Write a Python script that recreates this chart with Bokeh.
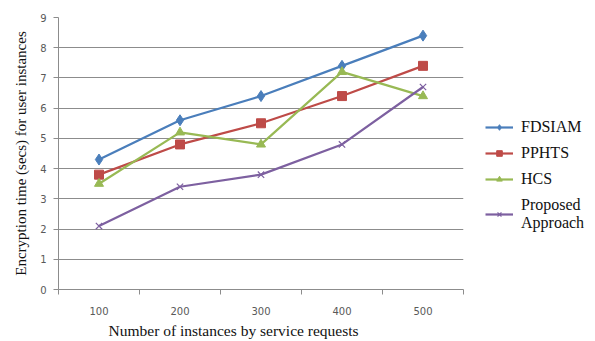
from bokeh.plotting import figure
from bokeh.models import Legend, LegendItem, FixedTicker, Range1d, Title
from bokeh.embed import file_html
from bokeh.resources import INLINE

categories = ["100", "200", "300", "400", "500"]
fdsiam = [4.3, 5.6, 6.4, 7.4, 8.4]
pphts = [3.8, 4.8, 5.5, 6.4, 7.4]
hcs = [3.5, 5.2, 4.8, 7.2, 6.4]
proposed = [2.1, 3.4, 3.8, 4.8, 6.7]

xs = [i + 0.5 for i in range(len(categories))]

p = figure(frame_width=405, frame_height=272, output_backend="svg",
           toolbar_location=None, min_border_left=58, min_border_top=17,
           min_border_bottom=4, min_border_right=132,
           x_range=Range1d(0, len(categories)), y_range=Range1d(0, 9))
p.outline_line_color = None
p.background_fill_color = "white"
p.border_fill_color = "white"

GRID = "#8c8c8c"
SERIF = "'Liberation Serif', 'Times New Roman', serif"

# y axis
p.yaxis.ticker = FixedTicker(ticks=list(range(0, 10)))
p.yaxis.axis_line_color = GRID
p.yaxis.major_tick_line_color = GRID
p.yaxis.major_tick_out = 5
p.yaxis.major_tick_in = 0
p.yaxis.minor_tick_line_color = None
p.yaxis.major_label_text_font = "DejaVu Sans"
p.yaxis.major_label_text_font_size = "10px"
p.yaxis.major_label_text_color = "#595959"
p.yaxis.major_label_standoff = 7
p.yaxis.axis_label = "Encryption time (secs) for user instances"
p.yaxis.axis_label_text_font = SERIF
p.yaxis.axis_label_text_font_style = "normal"
p.yaxis.axis_label_text_font_size = "15px"
p.yaxis.axis_label_text_color = "#111111"
p.yaxis.axis_label_standoff = 8

# x axis: labels at bin centers, tick marks at bin edges
p.xaxis.ticker = FixedTicker(ticks=xs, minor_ticks=list(range(0, len(categories) + 1)))
p.xaxis.major_label_overrides = {x: c for x, c in zip(xs, categories)}
p.xaxis.axis_line_color = GRID
p.xaxis.major_tick_line_color = None
p.xaxis.minor_tick_line_color = GRID
p.xaxis.minor_tick_out = 5
p.xaxis.minor_tick_in = 0
p.xaxis.major_label_text_font = "DejaVu Sans"
p.xaxis.major_label_text_font_size = "10px"
p.xaxis.major_label_text_color = "#595959"
p.xaxis.major_label_standoff = 11

# x axis title, set a little left of the plot centre
p.add_layout(Title(text="Number of instances by service requests", align="left",
                   offset=50, text_font=SERIF, text_font_style="normal",
                   text_font_size="15.5px", text_color="#111111",
                   standoff=4), "below")

p.xgrid.grid_line_color = None
p.ygrid.ticker = FixedTicker(ticks=list(range(1, 10)))
p.ygrid.grid_line_color = GRID
p.ygrid.grid_line_width = 1

series = [
    ("FDSIAM", fdsiam, "#4A7EBB", "diamond", 11),
    ("PPHTS", pphts, "#BE4B48", "square", 9),
    ("HCS", hcs, "#98B954", "triangle", 9),
    ("Proposed\nApproach", proposed, "#7D60A0", "x", 9),
]

items = []
for name, ys, color, marker, size in series:
    ln = p.line(xs, ys, line_color=color, line_width=2.2)
    mk = p.scatter(xs, ys, marker=marker, size=size, fill_color=color,
                   line_color=color, line_width=1.2 if marker == "x" else 1)
    items.append(LegendItem(label=name, renderers=[ln, mk]))

legend = Legend(items=items, location=(22, 57), border_line_color=None,
                background_fill_alpha=0, label_text_font=SERIF,
                label_text_font_size="16px", label_text_color="#111111",
                glyph_width=28, glyph_height=14, spacing=8, padding=4,
                label_standoff=8)
p.add_layout(legend, "right")

open("out.html", "w").write(file_html(p, INLINE))
